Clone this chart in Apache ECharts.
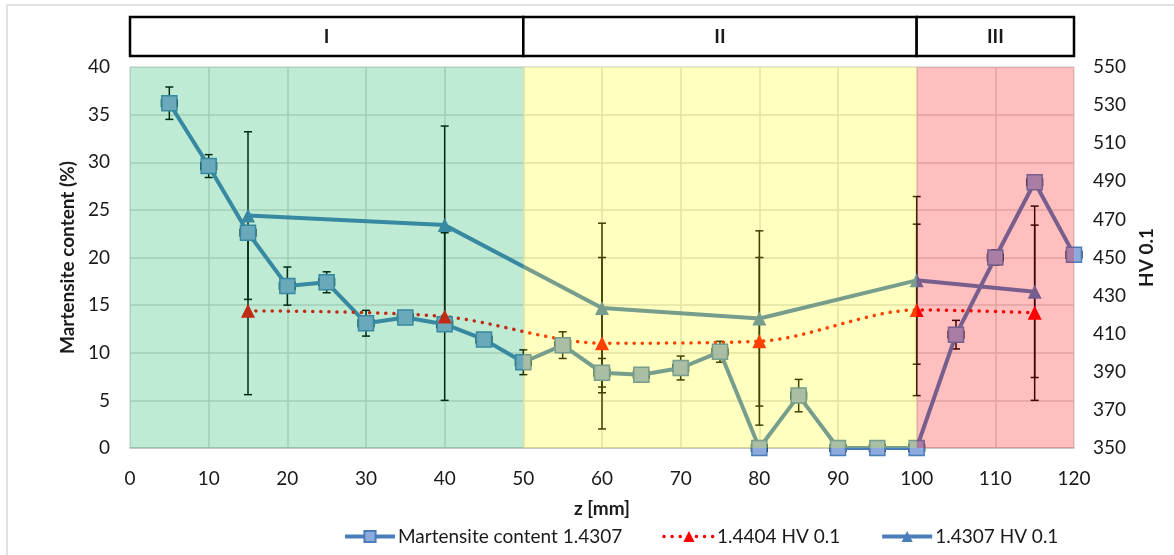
<!DOCTYPE html>
<html>
<head>
<meta charset="utf-8">
<script src="https://cdn.jsdelivr.net/npm/echarts@6/dist/echarts.min.js"></script>
<style>
  html, body { margin: 0; padding: 0; background: #fff; }
  #chart { width: 1174px; height: 555px; }
</style>
</head>
<body>
<div id="chart"></div>
<script>
// martensite content, left axis
const zMc = [5, 10, 15, 20, 25, 30, 35, 40, 45, 50, 55, 60, 65, 70, 75, 80, 85, 90, 95, 100, 105, 110, 115, 120]
const mc = [36.2, 29.6, 22.6, 17.0, 17.4, 13.1, 13.7, 13.0, 11.4, 9.0, 10.8, 7.9, 7.7, 8.4, 10.1, 0, 5.5, 0, 0, 0, 11.9, 20.0, 27.9, 20.3]
const mcErr = [1.7, 1.2, 0.6, 2.0, 1.1, 1.35, 0.3, 0.5, 0.4, 1.3, 1.4, 1.5, 0.3, 1.25, 1.1, 0, 1.7, 0, 0, 0, 1.5, 0.8, 0.5, 0.5]
const mcXErr = 1

// hardness, right axis
const zHv = [15, 40, 60, 80, 100, 115]
const hv4404 = [422, 419, 405, 406, 422.5, 421]
const hv4404Err = [44, 44, 45, 44, 45, 46]
const hv4307 = [472, 467, 423.5, 418, 438, 432]
const hv4307Err = [44, 52, 44.5, 46, 44, 45]

// zones
const zoneNames = ['I', 'II', 'III']
const zoneBounds = [0, 50, 100, 120]
const zoneColors = ['rgba(0,171,84,0.25)', 'rgba(255,255,0,0.25)', 'rgba(255,0,0,0.25)']

const FONT = 'Lato'

function pairs(xs, ys) {
  return xs.map((x, i) => [x, ys[i]])
}
function triples(xs, ys, es) {
  return xs.map((x, i) => [x, ys[i], es[i]])
}

function errorBars(xErr) {
  return function (params, api) {
    const x = api.value(0)
    const y = api.value(1)
    const e = api.value(2)
    const c = api.coord([x, y])
    const st = { stroke: '#000', lineWidth: 1.5, fill: null }
    const cap = 4
    const kids = []
    if (e > 0) {
      const top = api.coord([x, y + e])[1]
      const bot = api.coord([x, y - e])[1]
      kids.push({ type: 'line', shape: { x1: c[0], y1: top, x2: c[0], y2: bot }, style: st })
      kids.push({ type: 'line', shape: { x1: c[0] - cap, y1: top, x2: c[0] + cap, y2: top }, style: st })
      kids.push({ type: 'line', shape: { x1: c[0] - cap, y1: bot, x2: c[0] + cap, y2: bot }, style: st })
    }
    if (xErr) {
      const l = api.coord([x - xErr, y])[0]
      const r = api.coord([x + xErr, y])[0]
      kids.push({ type: 'line', shape: { x1: l, y1: c[1], x2: r, y2: c[1] }, style: st })
      kids.push({ type: 'line', shape: { x1: l, y1: c[1] - cap, x2: l, y2: c[1] + cap }, style: st })
      kids.push({ type: 'line', shape: { x1: r, y1: c[1] - cap, x2: r, y2: c[1] + cap }, style: st })
    }
    return { type: 'group', children: kids }
  }
}

const overlayAreas = zoneNames.map((n, i) => [
  { xAxis: zoneBounds[i], yAxis: 0, itemStyle: { color: zoneColors[i] } },
  { xAxis: zoneBounds[i + 1], yAxis: 40 }
])
const bandAreas = zoneNames.map((n, i) => [
  { name: n, xAxis: zoneBounds[i], yAxis: 0 },
  { xAxis: zoneBounds[i + 1], yAxis: 1 }
])

const labelStyle = { fontFamily: FONT, fontSize: 19, color: '#1a1a1a' }
const titleStyle = { fontFamily: FONT, fontSize: 19, fontWeight: 'bold', color: '#1a1a1a' }

const option = {
  backgroundColor: '#fff',
  animation: false,
  textStyle: { fontFamily: FONT },
  graphic: [{
    type: 'rect',
    shape: { x: 7, y: 5, width: 1180, height: 570 },
    style: { fill: null, stroke: '#d9d9d9', lineWidth: 1.5 },
    silent: true
  }],
  legend: {
    bottom: 4,
    left: 338,
    itemWidth: 50,
    itemHeight: 14,
    itemGap: 40,
    data: [
      { name: 'Martensite content 1.4307', lineStyle: { width: 4 } },
      { name: '1.4404 HV 0.1', lineStyle: { width: 3.5 } },
      { name: '1.4307 HV 0.1', lineStyle: { width: 4 } }
    ],
    textStyle: Object.assign({ padding: [0, 0, 0, -2] }, labelStyle)
  },
  grid: [
    { left: 130, right: 100, top: 67, bottom: 107 },
    { left: 130, right: 100, top: 17, height: 39 }
  ],
  xAxis: [
    {
      type: 'value',
      gridIndex: 0,
      min: 0,
      max: 120,
      interval: 10,
      name: 'z [mm]',
      nameLocation: 'middle',
      nameGap: 51,
      nameTextStyle: titleStyle,
      axisLine: { lineStyle: { color: '#bfbfbf', width: 1.5 } },
      axisTick: { show: false },
      axisLabel: Object.assign({ margin: 21 }, labelStyle),
      splitLine: { show: true, lineStyle: { color: '#d9d9d9', width: 1.5 } }
    },
    { type: 'value', gridIndex: 1, min: 0, max: 120, show: false }
  ],
  yAxis: [
    {
      type: 'value',
      gridIndex: 0,
      min: 0,
      max: 40,
      interval: 5,
      name: 'Martensite content (%)',
      nameLocation: 'middle',
      nameGap: 42,
      nameRotate: 90,
      nameTextStyle: titleStyle,
      axisLine: { show: false },
      axisTick: { show: false },
      axisLabel: Object.assign({ margin: 20 }, labelStyle),
      splitLine: { show: true, lineStyle: { color: '#d9d9d9', width: 1.5 } }
    },
    {
      type: 'value',
      gridIndex: 0,
      position: 'right',
      min: 350,
      max: 550,
      interval: 20,
      name: 'HV 0.1',
      nameLocation: 'middle',
      nameGap: 63,
      nameRotate: 90,
      nameTextStyle: titleStyle,
      axisLine: { show: false },
      axisTick: { show: false },
      axisLabel: Object.assign({ margin: 19 }, labelStyle),
      splitLine: { show: false }
    },
    { type: 'value', gridIndex: 1, min: 0, max: 1, show: false }
  ],
  series: [
    {
      name: 'mcErr',
      type: 'custom',
      xAxisIndex: 0,
      yAxisIndex: 0,
      z: 2,
      silent: true,
      renderItem: errorBars(mcXErr),
      data: triples(zMc, mc, mcErr)
    },
    {
      name: 'Martensite content 1.4307',
      type: 'line',
      xAxisIndex: 0,
      yAxisIndex: 0,
      z: 2,
      symbol: 'rect',
      symbolSize: 15,
      lineStyle: { color: '#4a7ebb', width: 4 },
      itemStyle: { color: '#8ea9db', borderColor: '#4a7ebb', borderWidth: 1.5 },
      data: pairs(zMc, mc)
    },
    {
      name: 'hv4404Err',
      type: 'custom',
      xAxisIndex: 0,
      yAxisIndex: 1,
      z: 2,
      silent: true,
      renderItem: errorBars(0),
      data: triples(zHv, hv4404, hv4404Err)
    },
    {
      name: 'hv4307Err',
      type: 'custom',
      xAxisIndex: 0,
      yAxisIndex: 1,
      z: 2,
      silent: true,
      renderItem: errorBars(0),
      data: triples(zHv, hv4307, hv4307Err)
    },
    {
      name: '1.4404 HV 0.1',
      type: 'line',
      xAxisIndex: 0,
      yAxisIndex: 1,
      z: 2,
      smooth: 0.3,
      symbol: 'triangle',
      symbolSize: 14,
      lineStyle: { color: '#ff0000', width: 3.5, type: [0.1, 8], cap: 'round' },
      itemStyle: { color: '#ff0000' },
      data: pairs(zHv, hv4404)
    },
    {
      name: '1.4307 HV 0.1',
      type: 'line',
      xAxisIndex: 0,
      yAxisIndex: 1,
      z: 2,
      symbol: 'triangle',
      symbolSize: 14,
      lineStyle: { color: '#4a7ebb', width: 4 },
      itemStyle: { color: '#4a7ebb' },
      data: pairs(zHv, hv4307)
    },
    {
      // translucent zone colouring laid over the plot, as in the original
      name: 'zones',
      type: 'line',
      xAxisIndex: 0,
      yAxisIndex: 0,
      z: 10,
      silent: true,
      data: [],
      markArea: { silent: true, z: 10, label: { show: false }, data: overlayAreas }
    },
    {
      name: 'band',
      type: 'line',
      xAxisIndex: 1,
      yAxisIndex: 2,
      silent: true,
      data: [],
      markArea: {
        silent: true,
        itemStyle: { color: '#fff', borderColor: '#000', borderWidth: 2.5 },
        label: Object.assign({ show: true, position: 'inside' }, titleStyle),
        data: bandAreas
      }
    }
  ]
}

const chart = echarts.init(document.getElementById('chart'))
chart.setOption(option)
</script>
</body>
</html>
